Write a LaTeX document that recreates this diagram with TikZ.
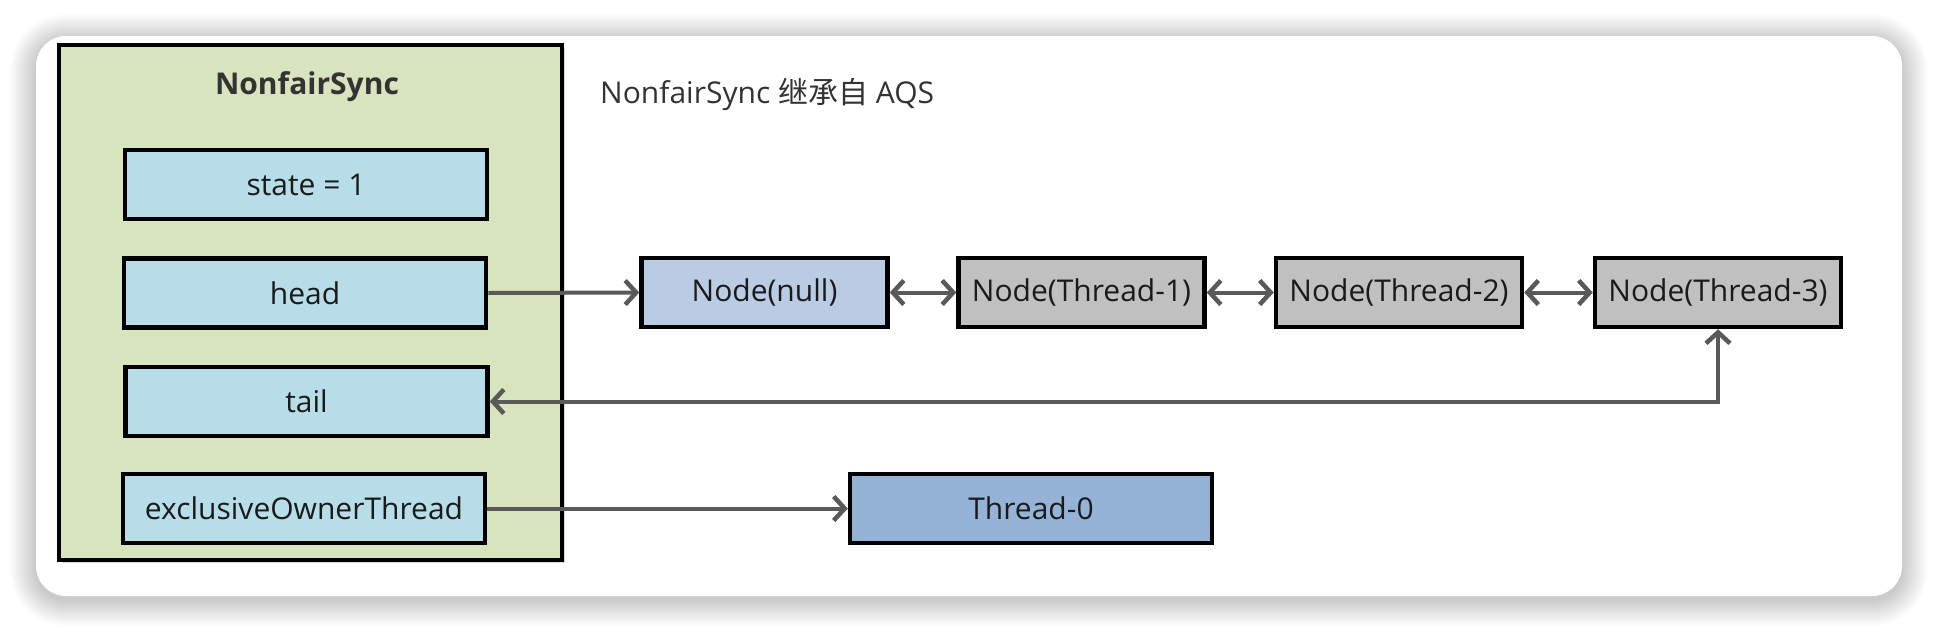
\documentclass[tikz,border=0pt]{standalone}
\usepackage{fontspec}
\setmainfont{Open Sans}
\newfontfamily\cjk{Noto Sans CJK SC}
\usetikzlibrary{arrows.meta,shadows}
\definecolor{outergreen}{HTML}{D7E4BD}
\definecolor{fieldcyan}{HTML}{B7DEE8}
\definecolor{nullblue}{HTML}{BACCE4}
\definecolor{waitgray}{HTML}{C0C0C0}
\definecolor{ownerblue}{HTML}{95B3D7}
\definecolor{arrowgray}{HTML}{595959}
\definecolor{txt}{HTML}{1A1A1A}
\definecolor{headtxt}{HTML}{333333}
\tikzset{
  basebox/.style={draw=black, line width=4.5pt, text=txt, inner sep=0pt,
    font=\fontsize{30}{36}\selectfont,
    drop shadow={shadow xshift=2pt, shadow yshift=-2pt, opacity=0.25}},
  fieldbox/.style={basebox, fill=fieldcyan, minimum width=362pt, minimum height=69pt},
  qnode/.style={basebox, minimum width=246pt, minimum height=69pt},
  barb/.tip={Straight Barb[length=11pt,width=24pt,line width=4.5pt]},
  link/.style={draw=arrowgray, line width=4pt, -barb},
  dlink/.style={draw=arrowgray, line width=4pt, barb-barb},
}
\begin{document}
\begin{tikzpicture}[x=1pt,y=-1pt]
\useasboundingbox (0,0) rectangle (1938,632);
\fill[white] (0,0) rectangle (1938,632);
% card shadow
\foreach \i in {1,...,26} {
  \fill[black, opacity=0.008, rounded corners={30pt+\i pt}]
    ({36-\i},{36-\i+4}) rectangle ({1902+\i},{596+\i+4});
}
% card
\fill[white, rounded corners=30pt] (36,36) rectangle (1902,596);
% outer NonfairSync box
\node[draw=black, line width=4pt, fill=outergreen, inner sep=0pt,
  minimum width=503pt, minimum height=515pt,
  drop shadow={shadow xshift=3pt, shadow yshift=-3pt, opacity=0.3}]
  (sync) at (310.5,302.5) {};
\node[font=\fontsize{30}{36}\selectfont\bfseries, text=headtxt] (title) at (307,87) {NonfairSync};
\node[anchor=west, inner sep=0pt, font=\fontsize{30}{36}\selectfont, text=headtxt] (note) at (600,94)
  {NonfairSync {\cjk 继承自} AQS};
% fields
\node[fieldbox] (state) at (306,184.5) {state = 1};
\node[fieldbox] (head) at (305,293) {head};
\node[fieldbox] (tail) at (306.5,401.5) {tail};
\node[fieldbox] (owner) at (304,508.5) {exclusiveOwnerThread};
% queue
\node[qnode, fill=nullblue] (n0) at (764.5,292.5) {Node(null)};
\node[qnode, fill=waitgray] (n1) at (1081.5,292.5) {Node(Thread-1)};
\node[qnode, fill=waitgray] (n2) at (1399,292.5) {Node(Thread-2)};
\node[qnode, fill=waitgray] (n3) at (1718,292.5) {Node(Thread-3)};
\node[basebox, fill=ownerblue, minimum width=362pt, minimum height=69pt] (t0) at (1031,508.5) {Thread-0};
% connectors
\draw[link] (head.east) -- (n0.west);
\draw[dlink] (n0.east) -- (n1.west);
\draw[dlink] (n1.east) -- (n2.west);
\draw[dlink] (n2.east) -- (n3.west);
\draw[dlink] (n3.south) |- (tail.east);
\draw[link] (owner.east) -- (t0.west);
\end{tikzpicture}
\end{document}
